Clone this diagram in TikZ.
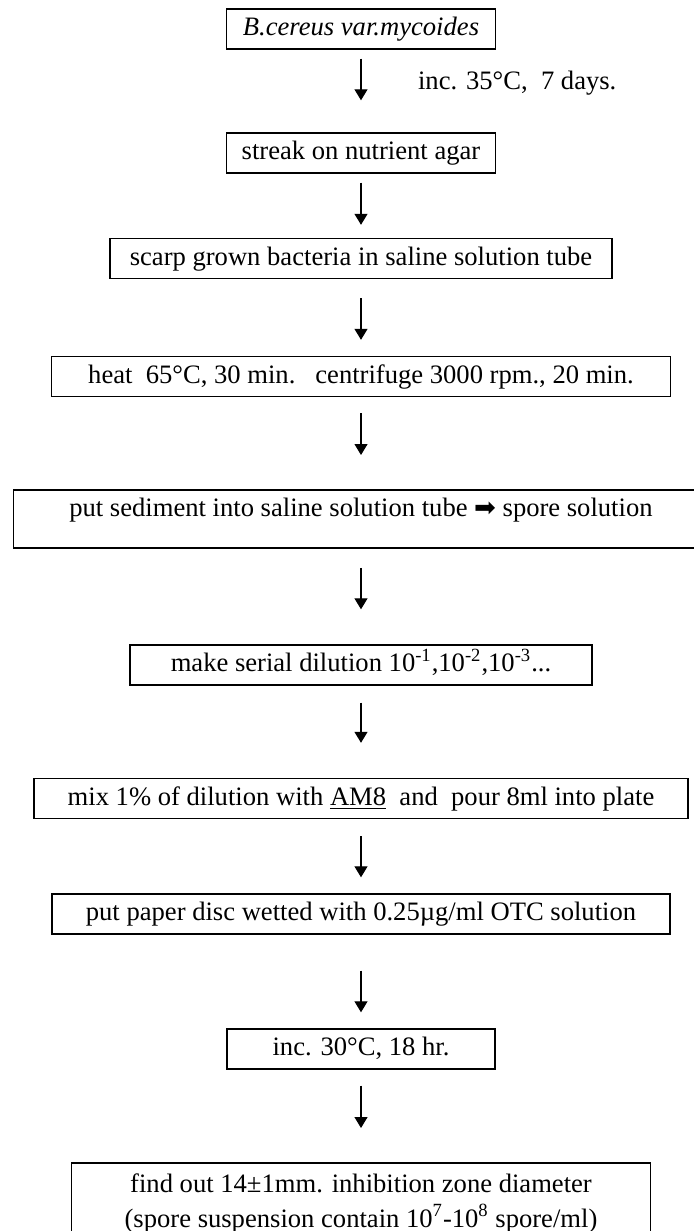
\documentclass[tikz,border=0pt]{standalone}
\usepackage{fontspec}
\setmainfont{Liberation Serif}
\newfontfamily\symfont{DejaVu Sans}
\usetikzlibrary{arrows.meta}
\begin{document}
\begin{tikzpicture}[x=0.5pt,y=-0.5pt,
  font=\fontsize{13.3}{17.5}\selectfont,
  stepbox/.style={draw, line width=0.7pt, text height=9.5pt, text depth=3pt, inner ysep=3.75pt, inner xsep=0pt},
  openbox/.style={inner xsep=0pt},
  arr/.style={line width=0.6pt, -{Triangle[width=6.5pt,length=5.5pt]}}]
\useasboundingbox (0,0) rectangle (694,1231);
\clip (0,0) rectangle (694,1231);
\fill[white] (0,0) rectangle (694,1231);

\node[stepbox, minimum width=134.5pt] (b1) at (361,29) {\textit{B.cereus var.mycoides}};
\node[anchor=west] (lab1) at (411,83) {inc. 35°C,\ \ 7 days.};
\node[stepbox, minimum width=134.5pt] (b2) at (361,153) {streak on nutrient agar};
\node[stepbox, minimum width=251pt] (b3) at (361,258.5) {scarp grown bacteria in saline solution tube};
\node[stepbox, minimum width=309.5pt] (b4) at (361,376.5) {heat\ \ 65°C, 30 min.\ \ \ centrifuge 3000 rpm., 20 min.};
\node[openbox, anchor=north, minimum width=347pt, text height=13pt, text depth=15.5pt, inner ysep=0pt] (b5) at (361,490) {put sediment into saline solution tube {\symfont\fontsize{13}{15}\selectfont ➡} spore solution};
\draw[line width=0.7pt] (b5.north east) -- (b5.north west) -- (b5.south west) -- (b5.south east);
\node[stepbox, minimum width=231pt] (b6) at (361,665) {make serial dilution 10\textsuperscript{-1},10\textsuperscript{-2},10\textsuperscript{-3}...};
\node[stepbox, minimum width=327pt] (b7) at (361,798.5) {mix 1\% of dilution with \underline{AM8}\ \ and\ \ pour 8ml into plate};
\node[stepbox, minimum width=309pt] (b8) at (361,914) {put paper disc wetted with 0.25µg/ml OTC solution};
\node[stepbox, minimum width=134pt] (b9) at (361,1049) {inc. 30°C, 18 hr.};
\node[openbox, anchor=north, align=center, minimum width=289pt, inner ysep=5pt] (b10) at (361,1163) {find out 14±1mm. inhibition zone diameter\\(spore suspension contain 10\textsuperscript{7}-10\textsuperscript{8} spore/ml)};
\coordinate (pagebottom) at (0,1240);
\draw[line width=0.7pt] (b10.north west |- pagebottom) -- (b10.north west) -- (b10.north east) -- (b10.north east |- pagebottom);

\draw[arr, shorten <=4.5pt, shorten >=16pt] (b1) -- (b2);
\draw[arr, shorten <=4.5pt, shorten >=6.5pt] (b2) -- (b3);
\draw[arr, shorten <=9.5pt, shorten >=8pt] (b3) -- (b4);
\draw[arr, shorten <=8pt, shorten >=17.5pt] (b4) -- (b5.north);
\draw[arr, shorten <=10pt, shorten >=17.5pt] (b5.south) -- (b6);
\draw[arr, shorten <=8.5pt, shorten >=17.5pt] (b6) -- (b7);
\draw[arr, shorten <=8.5pt, shorten >=8pt] (b7) -- (b8);
\draw[arr, shorten <=18pt, shorten >=8pt] (b8) -- (b9);
\draw[arr, shorten <=8pt, shorten >=17.5pt] (b9) -- (b10.north);
\end{tikzpicture}
\end{document}
